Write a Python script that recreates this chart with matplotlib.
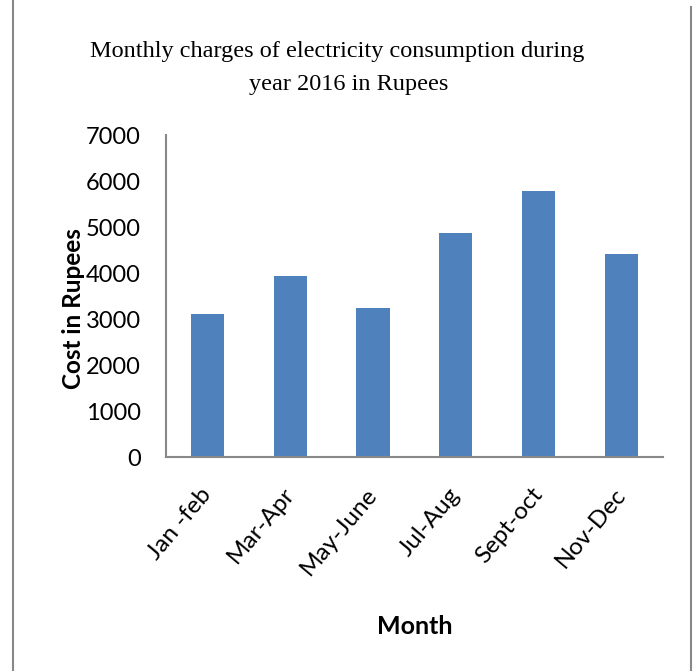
import matplotlib
matplotlib.use("Agg")
import matplotlib.pyplot as plt
from matplotlib.lines import Line2D

months = ['Jan -feb', 'Mar-Apr', 'May-June', 'Jul-Aug', 'Sept-oct', 'Nov-Dec']
cost = [3110, 3940, 3240, 4870, 5780, 4420]
yticks = [0, 1000, 2000, 3000, 4000, 5000, 6000, 7000]

plt.rcParams['font.family'] = ['Lato', 'DejaVu Sans']

fig = plt.figure(figsize=(6.94, 6.71), dpi=100)
ax = fig.add_axes([0.2392, 0.3185, 0.7157, 0.4803])

x = range(len(months))
ax.bar(x, cost, width=0.4, color='#4F81BD')

ax.set_xlim(-0.5, 5.5)
ax.set_ylim(0, 7000)
ax.set_yticks(yticks)
ax.set_yticklabels([str(t) for t in yticks], fontsize=17)
ax.set_xticks(list(x))
ax.set_xticklabels(months, fontsize=17.5, rotation=50, ha='right', va='center',
                   rotation_mode='anchor')
ax.tick_params(axis='y', length=0, pad=18)
ax.tick_params(axis='x', length=0, pad=24)

for s in ['top', 'right']:
    ax.spines[s].set_visible(False)
for s in ['left', 'bottom']:
    ax.spines[s].set_color('#888888')
    ax.spines[s].set_linewidth(1.5)

ax.set_ylabel('Cost in Rupees', fontsize=17.5, fontweight='bold')
ax.yaxis.set_label_coords(-0.163, 0.463)
ax.set_xlabel('Month', fontsize=18, fontweight='bold')
ax.xaxis.set_label_coords(0.5, -0.49)

# two-line title in serif
fig.text(0.486, 0.915, 'Monthly charges of electricity consumption during',
         ha='center', va='baseline', fontsize=17.5, family='Liberation Serif')
fig.text(0.502, 0.866, 'year 2016 in Rupees',
         ha='center', va='baseline', fontsize=17.5, family='Liberation Serif')

# page border lines
fig.add_artist(Line2D([13 / 694, 13 / 694], [0, 1], color='#888888', lw=1.5,
                      transform=fig.transFigure))
fig.add_artist(Line2D([691 / 694, 691 / 694], [0, 1 - 7 / 671], color='#888888', lw=1.5,
                      transform=fig.transFigure))

fig.savefig('out.png', dpi=100)
